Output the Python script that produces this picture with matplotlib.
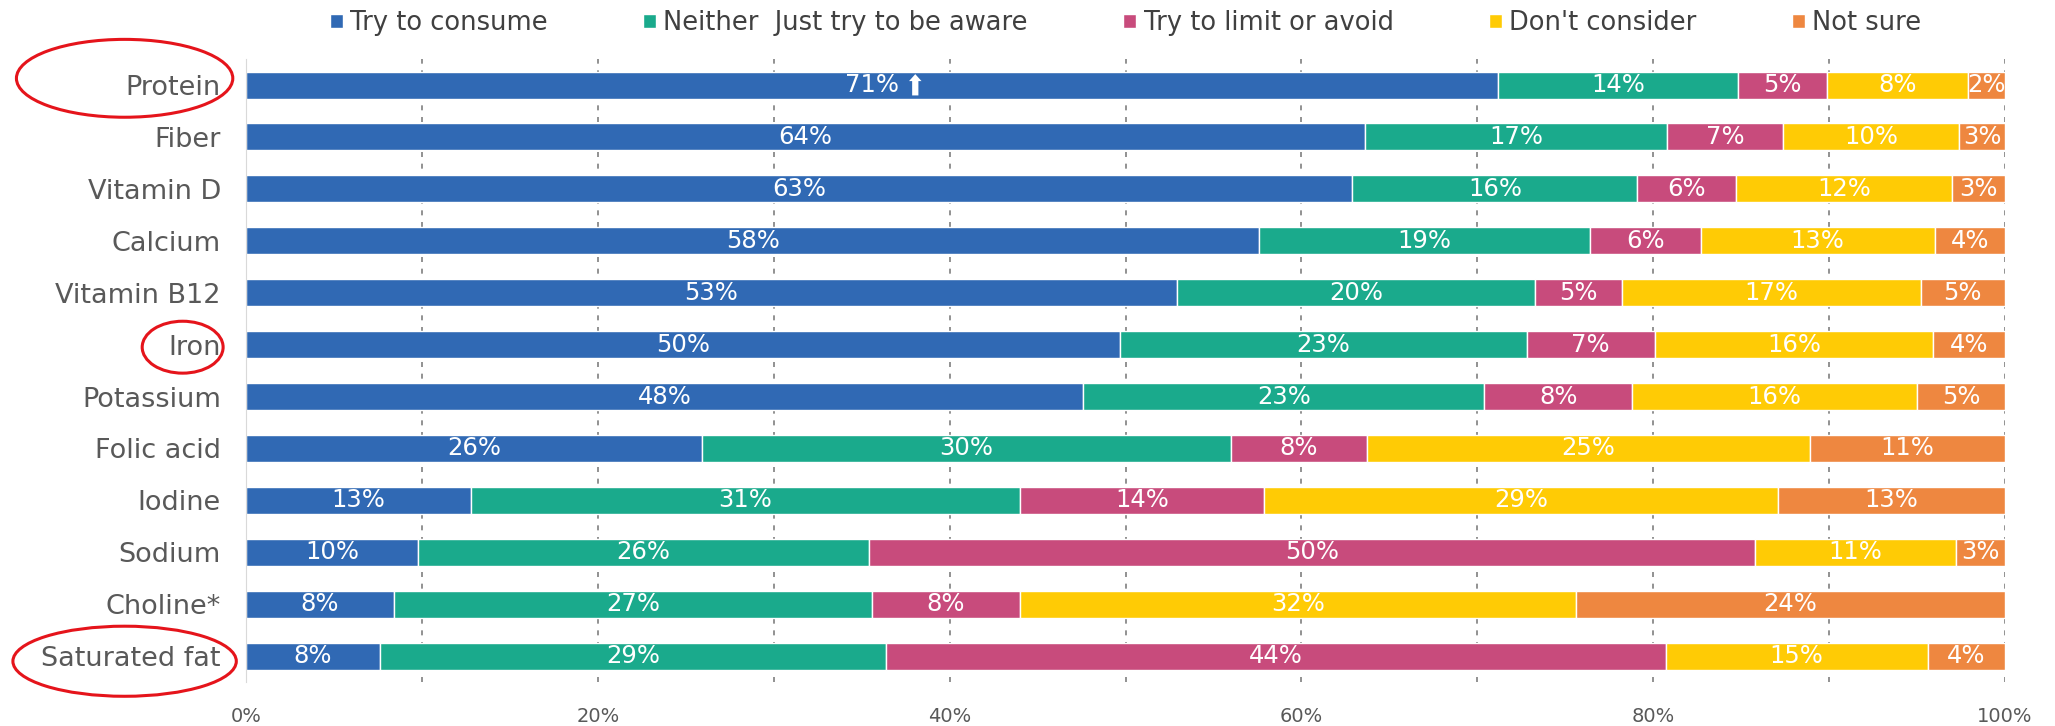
import matplotlib.pyplot as plt
from matplotlib.patches import Ellipse
from matplotlib.transforms import offset_copy, blended_transform_factory

# data (share of respondents, %)
nutrients = ['Protein', 'Fiber', 'Vitamin D', 'Calcium', 'Vitamin B12', 'Iron',
             'Potassium', 'Folic acid', 'Iodine', 'Sodium', 'Choline*', 'Saturated fat']
try_consume = [71.2, 63.6, 62.9, 57.6, 52.9, 49.7, 47.6, 25.9, 12.8, 9.8, 8.4, 7.6]
neither = [13.6, 17.2, 16.2, 18.8, 20.4, 23.1, 22.8, 30.1, 31.2, 25.6, 27.2, 28.8]
limit_avoid = [5.1, 6.6, 5.6, 6.3, 4.9, 7.3, 8.4, 7.7, 13.9, 50.4, 8.4, 44.3]
dont_consider = [8.0, 10.0, 12.3, 13.3, 17.0, 15.8, 16.2, 25.2, 29.2, 11.4, 31.6, 14.9]
not_sure = [2.1, 2.6, 3.0, 4.0, 4.8, 4.1, 5.0, 11.1, 12.9, 2.8, 24.4, 4.4]

series = ['Try to consume', 'Neither  Just try to be aware', 'Try to limit or avoid',
          "Don't consider", 'Not sure']
colors = ['#3069b4', '#1aaa8c', '#c84b7c', '#ffcb05', '#ee8740']
xticks = [0, 20, 40, 60, 80, 100]
circled = ['Protein', 'Iron', 'Saturated fat']

plt.rcParams['font.family'] = ['DejaVu Sans']

fig = plt.figure(figsize=(20.55, 7.26), dpi=100)
ax = fig.add_axes([0.1197, 0.0606, 0.856, 0.858])

y = list(range(len(nutrients)))
left = [0] * len(nutrients)
for name, vals, col in zip(series, [try_consume, neither, limit_avoid, dont_consider, not_sure], colors):
    ax.barh(y, vals, left=left, height=0.52, color=col, edgecolor='white', linewidth=1,
            label=name, zorder=2)
    for i, v in enumerate(vals):
        ax.text(left[i] + v / 2, i, f'{int(v + 0.5)}%', ha='center', va='center',
                color='white', fontsize=17.5, zorder=3)
    left = [l + v for l, v in zip(left, vals)]

# up arrow next to protein label
trans = offset_copy(ax.transData, fig=fig, x=31, y=0, units='points')
cx = try_consume[0] / 2
ax.annotate('', xy=(cx, -0.21), xycoords=trans, xytext=(cx, 0.2), textcoords=trans,
            arrowprops=dict(arrowstyle='simple,head_length=0.5,head_width=0.9,tail_width=0.45',
                            color='white', lw=0, shrinkA=0, shrinkB=0), zorder=4)

ax.set_xlim(0, 100)
ax.set_ylim(11.5, -0.5)
ax.set_yticks(y)
ax.set_yticklabels(nutrients, fontsize=19.5, color='#595959')
ax.set_xticks(xticks)
ax.set_xticklabels([f'{t}%' for t in xticks], fontsize=14, color='#595959')
ax.tick_params(axis='both', length=0)
ax.tick_params(axis='y', pad=18)
ax.tick_params(axis='x', pad=18)

for g in range(10, 101, 10):
    ax.axvline(g, color='#7f7f7f', linestyle=(0, (3, 4)), linewidth=1.2, zorder=1)

for s in ['top', 'right', 'bottom']:
    ax.spines[s].set_visible(False)
ax.spines['left'].set_color('#d9d9d9')

# red hand-drawn style circles around highlighted labels
blend = blended_transform_factory(ax.transAxes, ax.transData)
ell_size = {'Protein': (-0.069, -0.13, 0.123, 1.5),
            'Iron': (-0.036, 0.05, 0.046, 1.0),
            'Saturated fat': (-0.069, 0.1, 0.127, 1.35)}
for lab in circled:
    ex, dy, w, h = ell_size[lab]
    ax.add_patch(Ellipse((ex, nutrients.index(lab) + dy), w, h, transform=blend,
                         fill=False, edgecolor='#e5141b', linewidth=2.2, clip_on=False))

ax.legend(loc='center', bbox_to_anchor=(0.5, 1.058), ncol=5, frameon=False,
          fontsize=18.5, labelcolor='#404040', handlelength=0.5, handleheight=0.5,
          handletextpad=0.3, columnspacing=3.7)

fig.savefig('out.png', dpi=100)
